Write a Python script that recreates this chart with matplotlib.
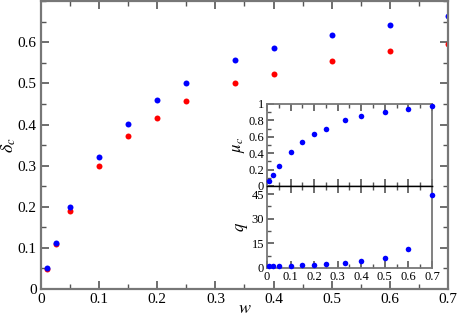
import numpy as np
import matplotlib
matplotlib.use("Agg")
import matplotlib.pyplot as plt
from matplotlib.ticker import MultipleLocator

plt.rcParams['font.family'] = ['Liberation Serif', 'DejaVu Serif']
plt.rcParams['mathtext.fontset'] = 'stix'

# data
w = [0.01, 0.025, 0.05, 0.1, 0.15, 0.2, 0.25, 0.333, 0.4, 0.5, 0.6, 0.7]
delta_blue = [0.05, 0.112, 0.199, 0.321, 0.402, 0.459, 0.502, 0.556, 0.585, 0.617, 0.641, 0.663]
delta_red = [0.048, 0.109, 0.19, 0.30, 0.371, 0.417, 0.456, 0.50, 0.524, 0.554, 0.578, 0.595]
mu_c = [0.057, 0.134, 0.244, 0.41, 0.537, 0.63, 0.70, 0.80, 0.854, 0.90, 0.94, 0.976]
q = [1.0, 1.0, 1.2, 1.3, 1.6, 2.0, 2.2, 3.3, 4.1, 6.2, 11.3, 44.8]

spine_col = '#777777'

fig = plt.figure(figsize=(4.57, 3.16), dpi=100)

def style(ax, lw=1.6, right=True, top=True):
    for s in ax.spines.values():
        s.set_color(spine_col)
        s.set_linewidth(lw)
    ax.tick_params(which='both', direction='in', top=top, right=right, colors='#555555', labelcolor='black')
    ax.tick_params(which='major', length=6, width=1.2)
    ax.tick_params(which='minor', length=3.5, width=1.0)

ax = fig.add_axes([0.0897, 0.0854, 0.8906, 0.911])
ax.plot(w, delta_red, 'o', color='#ff0000', ms=4.3, mec='none')
ax.plot(w, delta_blue, 'o', color='#0000ff', ms=4.3, mec='none')
ax.set_xlim(0, 0.7)
ax.set_ylim(0, 0.7)
ax.xaxis.set_minor_locator(MultipleLocator(0.05))
ax.yaxis.set_minor_locator(MultipleLocator(0.05))
ax.set_xticks(np.arange(0, 0.71, 0.1))
ax.set_xticklabels(['0', '0.1', '0.2', '0.3', '0.4', '0.5', '0.6', '0.7'])
ax.set_yticks(np.arange(0, 0.61, 0.1))
ax.set_yticklabels(['0', '0.1', '0.2', '0.3', '0.4', '0.5', '0.6'])
style(ax)
ax.tick_params(labelsize=11, pad=3)
ax.set_xlabel(r'$w$', fontsize=13)
ax.xaxis.set_label_coords(0.5, -0.038)
ax.set_ylabel(r'$\delta_c$', fontsize=13)
ax.yaxis.set_label_coords(-0.056, 0.5)

# inset, upper panel
a1 = fig.add_axes([0.5842, 0.4114, 0.361, 0.2595])
a1.plot(w, mu_c, 'o', color='#0000ff', ms=4.0, mec='none', clip_on=False, zorder=5)
a1.set_xlim(0, 0.7)
a1.set_ylim(0, 1)
a1.xaxis.set_major_locator(MultipleLocator(0.1))
a1.xaxis.set_minor_locator(MultipleLocator(0.05))
a1.yaxis.set_minor_locator(MultipleLocator(0.1))
a1.set_yticks(np.arange(0, 1.01, 0.2))
a1.set_yticklabels(['0', '0.2', '0.4', '0.6', '0.8', '1'])
style(a1, lw=1.3, right=False)
a1.spines['bottom'].set_color('black')
a1.spines['bottom'].set_linewidth(1.0)
a1.tick_params(labelbottom=False, labelsize=9, pad=2)
a1.tick_params(which='major', length=5)
a1.tick_params(which='minor', length=3)
a1.set_ylabel(r'$\mu_c$', fontsize=12, labelpad=1)

# inset, lower panel
a2 = fig.add_axes([0.5842, 0.1519, 0.361, 0.2595])
a2.plot(w, q, 'o', color='#0000ff', ms=4.0, mec='none', clip_on=False, zorder=5)
a2.set_xlim(0, 0.7)
a2.set_ylim(0, 50)
a2.xaxis.set_minor_locator(MultipleLocator(0.05))
a2.set_yticks([0, 15, 30, 45])
a2.yaxis.set_minor_locator(MultipleLocator(7.5))
a2.set_xticks(np.arange(0, 0.71, 0.1))
a2.set_xticklabels(['0', '0.1', '0.2', '0.3', '0.4', '0.5', '0.6', '0.7'])
style(a2, lw=1.3, right=False)
a2.spines['top'].set_color('black')
a2.spines['top'].set_linewidth(1.0)
a2.tick_params(labelsize=9, pad=2)
a2.tick_params(which='major', length=5)
a2.tick_params(which='minor', length=3)
a2.set_ylabel(r'$q$', fontsize=12, labelpad=1)

fig.savefig('out.png', dpi=100)
